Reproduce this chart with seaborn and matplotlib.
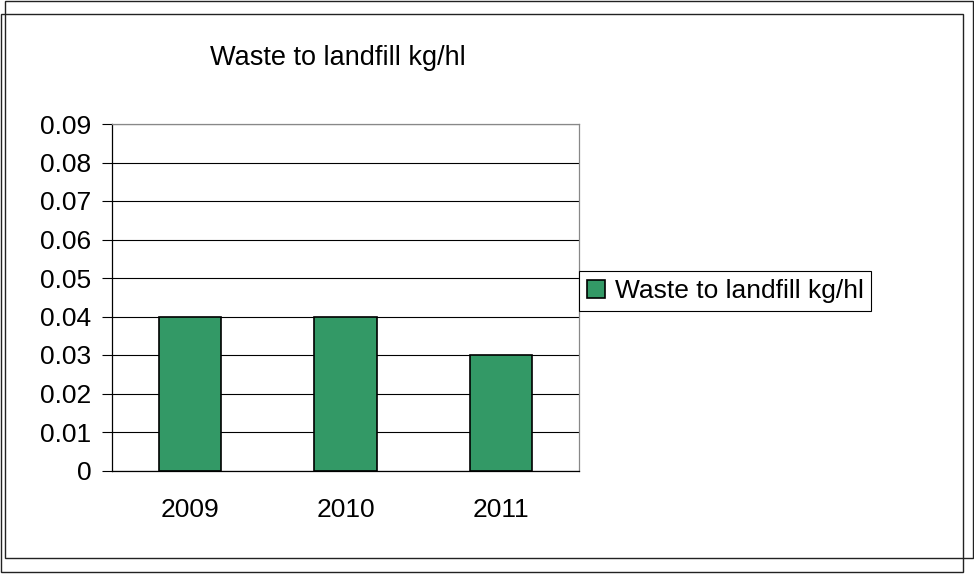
import matplotlib
matplotlib.use("Agg")
import matplotlib.pyplot as plt
from matplotlib.patches import Rectangle
import pandas as pd
import seaborn as sns

years = ["2009", "2010", "2011"]
waste_kg_per_hl = [0.04, 0.04, 0.03]
y_ticks = [0, 0.01, 0.02, 0.03, 0.04, 0.05, 0.06, 0.07, 0.08, 0.09]
y_tick_labels = ["0", "0.01", "0.02", "0.03", "0.04", "0.05", "0.06", "0.07", "0.08", "0.09"]
title = "Waste to landfill kg/hl"

bar_color = "#339966"

sns.set_style("white")
plt.rcParams["font.family"] = ["Liberation Sans", "DejaVu Sans"]
plt.rcParams["text.color"] = "black"
plt.rcParams["xtick.color"] = "black"
plt.rcParams["ytick.color"] = "black"

df = pd.DataFrame({"year": years, "value": waste_kg_per_hl})

fig = plt.figure(figsize=(9.74, 5.74), dpi=100)
fig.patch.set_facecolor("white")

# the two overlapping frames around the chart
fig.patches.append(Rectangle((5 / 974, 1 - 558 / 574), 968 / 974, 557 / 574,
                             transform=fig.transFigure, fill=False,
                             edgecolor="#222222", linewidth=1))
fig.patches.append(Rectangle((1 / 974, 1 - 572 / 574), 962 / 974, 558 / 574,
                             transform=fig.transFigure, fill=False,
                             edgecolor="#222222", linewidth=1))

ax = fig.add_axes([112 / 974, 1 - 470.5 / 574, 467 / 974, 346.5 / 574])
sns.barplot(data=df, x="year", y="value", color=bar_color, saturation=1,
            edgecolor="black", linewidth=1.2, width=0.4, ax=ax,
            label=title)

ax.set_xlim(-0.5, 2.5)
ax.set_ylim(0, 0.09)
ax.set_yticks(y_ticks)
ax.set_yticklabels(y_tick_labels)
ax.set_xlabel("")
ax.set_ylabel("")

ax.yaxis.grid(True, color="black", linewidth=0.8)
ax.set_axisbelow(True)

ax.set_xticks([-0.5, 0.5, 1.5, 2.5], minor=True)
ax.tick_params(axis="x", which="major", length=0, pad=20, labelsize=19)
ax.tick_params(axis="x", which="minor", length=7, width=0.8, color="black", direction="out")
ax.tick_params(axis="y", length=7, width=0.8, color="black", direction="out",
               left=True, pad=8, labelsize=19)

for side in ["left", "bottom"]:
    ax.spines[side].set_color("black")
    ax.spines[side].set_linewidth(0.9)
for side in ["top", "right"]:
    ax.spines[side].set_color("#888888")
    ax.spines[side].set_linewidth(0.9)

fig.text(338 / 974, 1 - 58 / 574, title, ha="center", va="center", fontsize=19.5)

leg = ax.legend(loc="center left", bbox_to_anchor=(579 / 974, 1 - 291 / 574),
                bbox_transform=fig.transFigure, fontsize=19, frameon=True,
                fancybox=False, edgecolor="black", framealpha=1,
                handlelength=0.7, handleheight=0.7, handletextpad=0.35,
                borderpad=0.3, borderaxespad=0)
leg.get_frame().set_linewidth(0.8)

fig.savefig("out.png", dpi=100, facecolor="white")
